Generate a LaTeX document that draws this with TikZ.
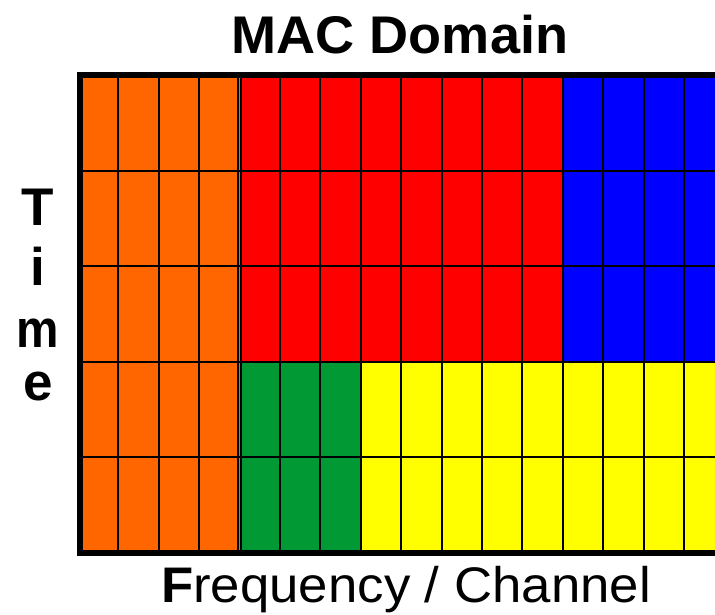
\documentclass[tikz,border=0pt]{standalone}
\usepackage{fontspec}
\setmainfont{Liberation Sans}
\definecolor{cOrange}{HTML}{FF6600}
\definecolor{cRed}{HTML}{FF0000}
\definecolor{cBlue}{HTML}{0000FF}
\definecolor{cYellow}{HTML}{FFFF00}
\definecolor{cGreen}{HTML}{009933}
\tikzset{
  gridline/.style={black, line width=2pt},
  frameline/.style={black, line width=6pt},
  titletext/.style={font=\fontsize{53}{60}\selectfont\bfseries, inner sep=0pt, anchor=base},
  timetext/.style={font=\fontsize{53}{60}\selectfont\bfseries, inner sep=0pt, anchor=base},
  axistext/.style={font=\fontsize{50}{60}\selectfont, inner sep=0pt, anchor=base west},
}
\begin{document}
\begin{tikzpicture}[x=1pt, y=-1pt]
\useasboundingbox (0,0) rectangle (715,614);
\fill[white] (0,0) rectangle (715,614);
\begin{scope}
\clip (0,0) rectangle (715,614);
% colour blocks
\fill[cOrange] (80,75) rectangle (241,553);
\fill[cRed] (241,75) rectangle (562.8,360.8);
\fill[cBlue] (562.8,75) rectangle (740,360.8);
\fill[cGreen] (241,360.8) rectangle (360.8,553);
\fill[cYellow] (360.8,360.8) rectangle (740,553);
% vertical grid lines
\foreach \k in {1,2,3} {
  \draw[gridline] ({78+40.4*\k},75) -- ({78+40.4*\k},553);
}
\draw[gridline] (237.6,75) -- (237.6,553);
\draw[gridline] (241,75) -- (241,553);
\foreach \k in {5,...,15} {
  \draw[gridline] ({78+40.4*\k},75) -- ({78+40.4*\k},553);
}
% horizontal grid lines
\foreach \r in {1,2,3,4} {
  \draw[gridline] (80,{75+95.6*\r}) -- (740,{75+95.6*\r});
}
% frame (top, left, bottom; the right side runs off the picture)
\draw[frameline] (740,75) -- (80,75) -- (80,553) -- (740,553);
\end{scope}
% texts
\node[titletext] (title) at (400,53) {\scalebox{1.02}[1]{MAC Domain}};
\node[timetext] (tT) at (38,225) {T};
\node[timetext] (ti) at (38,285) {i};
\node[timetext] (tm) at (38,347) {\scalebox{0.9}[1]{m}};
\node[timetext] (te) at (38,400) {e};
\node[axistext] (xlabel) at (161,602) {\scalebox{1.055}[1]{\textbf{F}requency / Channel}};
\end{tikzpicture}
\end{document}
